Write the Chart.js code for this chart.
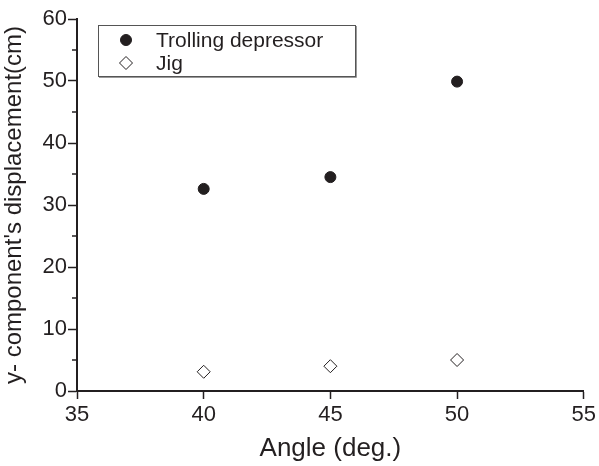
<!DOCTYPE html>
<html lang="en">
<head>
    <meta charset="UTF-8">
    <title>y-component displacement vs angle</title>
    <script src="https://cdn.jsdelivr.net/npm/chart.js"></script>
    <style>
        html, body {
            margin: 0;
            padding: 0;
            background: #ffffff;
        }

        .chart-container {
            width: 599px;
            height: 466px;
        }
    </style>
</head>
<body>
    <div class="chart-container">
        <canvas id="chartCanvas"></canvas>
    </div>
    <script>
        // data
        const angles = [40, 45, 50];
        const trolling = [32.6, 34.5, 49.9];
        const jig = [3.1, 4.0, 5.0];
        const xTicks = [35, 40, 45, 50, 55];
        const yTicks = [0, 10, 20, 30, 40, 50, 60];
        const yMinorTicks = [5, 15, 25, 35, 45, 55];

        const INK = '#231f20';
        const FONT = "'Liberation Sans', Arial, sans-serif";

        function toPoints(values) {
            return angles.map((a, i) => ({ x: a, y: values[i] }));
        }

        // short outward ticks at the half steps of the y axis
        const minorTicks = {
            id: 'minorTicks',
            afterDraw(chart) {
                const ctx = chart.ctx;
                const y = chart.scales.y;
                ctx.save();
                ctx.strokeStyle = INK;
                ctx.lineWidth = 1.5;
                yMinorTicks.forEach(v => {
                    const py = y.getPixelForValue(v);
                    ctx.beginPath();
                    ctx.moveTo(y.right, py);
                    ctx.lineTo(y.right - 5, py);
                    ctx.stroke();
                });
                ctx.restore();
            }
        };

        // boxed legend inside the plot, like the original
        const boxLegend = {
            id: 'boxLegend',
            afterDraw(chart) {
                const ctx = chart.ctx;
                const left = 98, top = 25, width = 257, height = 51;
                ctx.save();
                ctx.fillStyle = '#ffffff';
                ctx.fillRect(left, top, width, height);
                ctx.strokeStyle = '#555555';
                ctx.lineWidth = 1;
                ctx.strokeRect(left + 0.5, top + 0.5, width, height);
                ctx.strokeStyle = '#999999';
                ctx.beginPath();
                ctx.moveTo(left + 1, top + height + 1.5);
                ctx.lineTo(left + width + 1.5, top + height + 1.5);
                ctx.lineTo(left + width + 1.5, top + 1);
                ctx.stroke();

                ctx.font = '21px ' + FONT;
                ctx.textBaseline = 'middle';
                ctx.textAlign = 'left';
                chart.data.datasets.forEach((ds, i) => {
                    const cy = top + 15 + i * 23;
                    ctx.fillStyle = ds.backgroundColor;
                    ctx.strokeStyle = ds.borderColor;
                    ctx.lineWidth = ds.borderWidth;
                    Chart.helpers.drawPoint(ctx, {
                        pointStyle: ds.pointStyle,
                        radius: ds.pointRadius,
                        rotation: 0,
                        borderWidth: ds.borderWidth
                    }, left + 28, cy);
                    ctx.fillStyle = INK;
                    ctx.fillText(ds.label, left + 58, cy + 1);
                });
                ctx.restore();
            }
        };

        const ctx = document.getElementById('chartCanvas').getContext('2d');
        new Chart(ctx, {
            type: 'scatter',
            data: {
                datasets: [{
                    label: 'Trolling depressor',
                    data: toPoints(trolling),
                    pointStyle: 'circle',
                    pointRadius: 5.5,
                    backgroundColor: INK,
                    borderColor: INK,
                    borderWidth: 1
                }, {
                    label: 'Jig',
                    data: toPoints(jig),
                    pointStyle: 'rectRot',
                    pointRadius: 6.5,
                    backgroundColor: '#ffffff',
                    borderColor: INK,
                    borderWidth: 1
                }]
            },
            options: {
                responsive: true,
                maintainAspectRatio: false,
                animation: false,
                layout: {
                    padding: { top: 19, right: 15, left: 0, bottom: 0 }
                },
                plugins: {
                    legend: { display: false },
                    tooltip: { enabled: false }
                },
                scales: {
                    x: {
                        type: 'linear',
                        min: 35,
                        max: 55,
                        afterBuildTicks: scale => {
                            scale.ticks = xTicks.map(v => ({ value: v }));
                        },
                        afterFit: scale => { scale.height = 75; },
                        grid: {
                            drawOnChartArea: false,
                            drawTicks: true,
                            tickLength: 8,
                            tickColor: INK,
                            tickWidth: 1.5
                        },
                        border: { display: true, color: INK, width: 2 },
                        ticks: {
                            color: INK,
                            padding: 3,
                            font: { family: FONT, size: 22 }
                        },
                        title: {
                            display: true,
                            text: 'Angle (deg.)',
                            color: INK,
                            padding: { top: 0, bottom: 2 },
                            font: { family: FONT, size: 26 }
                        }
                    },
                    y: {
                        min: 0,
                        max: 60,
                        afterBuildTicks: scale => {
                            scale.ticks = yTicks.map(v => ({ value: v }));
                        },
                        afterFit: scale => { scale.width = 77; },
                        grid: {
                            drawOnChartArea: false,
                            drawTicks: true,
                            tickLength: 9,
                            tickColor: INK,
                            tickWidth: 1.5
                        },
                        border: { display: true, color: INK, width: 2 },
                        ticks: {
                            color: INK,
                            padding: 1,
                            font: { family: FONT, size: 22 }
                        },
                        title: {
                            display: true,
                            text: "y- component's displacement(cm)",
                            color: INK,
                            padding: { top: 0, bottom: 0 },
                            font: { family: FONT, size: 24 }
                        }
                    }
                }
            },
            plugins: [minorTicks, boxLegend]
        });
    </script>
</body>
</html>
